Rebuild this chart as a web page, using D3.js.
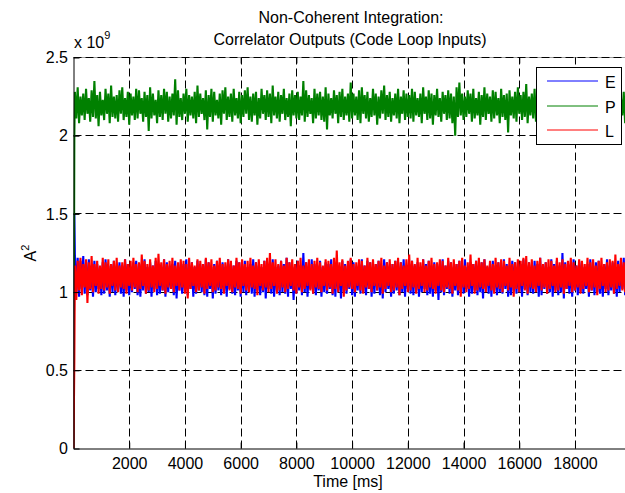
<!DOCTYPE html>
<html>
<head>
<meta charset="utf-8">
<script src="https://cdn.jsdelivr.net/npm/d3@7"></script>
<style>
  body { margin: 0; background: #fff; }
  svg { font-family: "Liberation Sans", Arial, sans-serif; }
</style>
</head>
<body>
<div class="box"></div>
<script>
// DATA  (A^2 in units of 1e9, time in ms)
// the trace is too dense to read point by point, so each 100 ms bin
// keeps the highest and the lowest value the trace reaches in it
const binMs = 100;

const pHi = [
  2.28,2.31,2.25,2.27,2.30,2.24,2.29,2.35,2.26,2.28,2.23,2.30,2.27,2.32,2.25,2.26,2.29,2.31,2.24,2.28,
  2.27,2.25,2.30,2.29,2.24,2.28,2.26,2.31,2.27,2.23,2.29,2.26,2.30,2.28,2.25,2.27,2.36,2.29,2.24,2.27,
  2.30,2.26,2.25,2.28,2.32,2.27,2.24,2.29,2.26,2.30,2.28,2.23,2.27,2.29,2.31,2.25,2.27,2.30,2.24,2.28,
  2.26,2.29,2.31,2.25,2.27,2.28,2.24,2.30,2.26,2.29,2.27,2.32,2.25,2.28,2.26,2.30,2.24,2.27,2.29,2.26,
  2.28,2.25,2.35,2.29,2.26,2.24,2.30,2.27,2.28,2.25,2.31,2.27,2.24,2.29,2.26,2.28,2.30,2.25,2.27,2.34,
  2.27,2.25,2.29,2.31,2.26,2.28,2.24,2.30,2.27,2.25,2.29,2.32,2.26,2.28,2.24,2.27,2.30,2.25,2.29,2.27,
  2.26,2.30,2.28,2.24,2.27,2.31,2.25,2.29,2.27,2.26,2.30,2.24,2.28,2.26,2.29,2.27,2.25,2.31,2.34,2.27,
  2.25,2.29,2.27,2.30,2.24,2.28,2.26,2.31,2.27,2.25,2.29,2.28,2.24,2.30,2.26,2.27,2.29,2.25,2.28,2.31,
  2.26,2.28,2.33,2.25,2.27,2.30,2.24,2.29,2.27,2.26,2.31,2.25,2.28,2.27,2.30,2.24,2.29,2.26,2.28,2.30,
  2.27,2.25,2.29,2.31,2.26,2.28,2.24,2.30,2.27,2.29,2.25,2.28,2.31,2.26,2.27,2.29,2.24,2.28,2.30,2.26
];
const pLo = [
  2.11,2.08,2.13,2.10,2.14,2.09,2.12,2.11,2.06,2.13,2.10,2.14,2.08,2.12,2.11,2.09,2.14,2.10,2.12,2.07,
  2.13,2.10,2.11,2.14,2.09,2.12,2.03,2.11,2.13,2.08,2.12,2.10,2.14,2.09,2.11,2.13,2.07,2.12,2.10,2.14,
  2.09,2.13,2.11,2.08,2.12,2.14,2.10,2.04,2.12,2.09,2.13,2.11,2.07,2.14,2.10,2.12,2.09,2.13,2.11,2.08,
  2.12,2.14,2.10,2.09,2.13,2.07,2.11,2.14,2.10,2.12,2.08,2.13,2.11,2.09,2.14,2.10,2.12,2.06,2.13,2.11,
  2.10,2.13,2.09,2.12,2.14,2.08,2.11,2.13,2.10,2.09,2.04,2.13,2.11,2.14,2.08,2.12,2.10,2.13,2.09,2.11,
  2.13,2.10,2.08,2.14,2.11,2.09,2.12,2.13,2.07,2.11,2.14,2.10,2.12,2.09,2.13,2.11,2.08,2.14,2.10,2.12,
  2.11,2.09,2.13,2.12,2.08,2.14,2.10,2.11,2.07,2.13,2.12,2.09,2.14,2.10,2.11,2.08,2.00,2.12,2.13,2.10,
  2.12,2.14,2.09,2.11,2.13,2.07,2.12,2.10,2.14,2.09,2.11,2.13,2.08,2.12,2.10,2.02,2.13,2.11,2.09,2.14,
  2.10,2.12,2.08,2.13,2.11,2.09,2.14,2.10,2.12,2.07,2.13,2.11,2.09,2.14,2.10,2.12,2.08,2.13,2.11,2.10,
  2.13,2.09,2.12,2.11,2.07,2.14,2.10,2.12,2.09,2.13,2.05,2.11,2.14,2.10,2.12,2.09,2.13,2.08,2.11,2.12
];

const eHi = [
  1.24,1.22,1.20,1.23,1.19,1.21,1.17,1.20,1.18,1.16,1.19,1.21,1.17,1.18,1.20,1.16,1.19,1.17,1.21,1.18,
  1.16,1.19,1.20,1.17,1.18,1.21,1.16,1.19,1.17,1.20,1.18,1.16,1.21,1.19,1.17,1.18,1.20,1.16,1.19,1.18,
  1.21,1.17,1.19,1.16,1.20,1.18,1.17,1.21,1.19,1.16,1.18,1.20,1.17,1.19,1.16,1.21,1.18,1.17,1.20,1.19,
  1.17,1.20,1.16,1.18,1.21,1.19,1.17,1.16,1.20,1.18,1.19,1.21,1.16,1.17,1.20,1.18,1.22,1.19,1.16,1.18,
  1.20,1.17,1.25,1.19,1.16,1.21,1.18,1.17,1.20,1.16,1.19,1.18,1.21,1.17,1.19,1.16,1.20,1.18,1.17,1.21,
  1.19,1.16,1.18,1.21,1.17,1.20,1.19,1.16,1.18,1.20,1.17,1.21,1.19,1.16,1.18,1.20,1.17,1.19,1.21,1.16,
  1.18,1.20,1.17,1.19,1.16,1.21,1.18,1.20,1.17,1.19,1.16,1.18,1.21,1.17,1.20,1.19,1.16,1.18,1.20,1.17,
  1.21,1.16,1.19,1.18,1.20,1.17,1.19,1.21,1.16,1.18,1.20,1.17,1.19,1.16,1.21,1.18,1.17,1.20,1.19,1.16,
  1.18,1.21,1.17,1.19,1.16,1.20,1.18,1.22,1.17,1.19,1.16,1.21,1.18,1.20,1.17,1.25,1.19,1.16,1.18,1.21,
  1.17,1.20,1.19,1.16,1.18,1.21,1.17,1.19,1.20,1.16,1.18,1.21,1.17,1.19,1.16,1.20,1.18,1.22,1.17,1.19
];
const eLo = [
  1.00,0.97,1.02,0.99,0.98,1.01,0.97,1.00,1.02,0.98,0.99,1.01,0.97,1.00,0.98,1.02,0.99,0.97,1.01,0.98,
  1.00,1.02,0.98,0.97,1.01,0.99,1.00,0.97,1.02,0.98,0.99,1.01,0.97,1.00,1.02,0.98,0.96,1.01,0.99,1.00,
  0.98,1.02,0.97,0.99,1.01,1.00,0.98,0.97,1.02,0.96,0.99,1.01,0.98,1.00,0.97,1.02,0.99,0.98,1.01,0.97,
  1.00,0.98,1.02,0.99,0.97,1.01,0.98,1.00,0.96,1.02,0.99,0.97,1.01,0.98,1.00,0.99,0.97,1.02,0.95,0.99,
  1.01,0.98,1.00,0.97,1.02,0.99,0.98,1.01,0.97,1.00,0.99,1.02,0.98,0.97,1.01,0.96,1.00,0.99,1.02,0.98,
  0.97,1.01,0.99,1.00,0.98,1.02,0.97,0.99,1.01,0.98,0.96,1.00,1.02,0.97,0.99,1.01,0.98,1.00,0.97,1.02,
  0.99,0.98,1.01,0.97,1.00,1.02,0.98,0.99,0.97,1.01,0.95,1.00,0.98,1.02,0.99,0.97,1.01,0.98,1.00,0.99,
  1.02,0.97,0.99,1.01,0.98,1.00,0.96,1.02,0.99,0.97,1.01,0.98,1.00,0.99,1.02,0.97,0.98,1.01,0.99,1.00,
  0.97,1.02,0.98,1.00,0.99,1.01,0.97,0.98,1.02,0.99,1.00,0.97,1.01,0.98,1.00,0.96,1.02,0.99,0.97,1.01,
  0.98,1.00,0.99,1.02,0.97,1.01,0.98,1.00,0.99,0.97,1.02,0.98,1.01,0.99,0.97,1.00,1.02,0.98,0.99,1.01
];

const lHi = [
  1.17,1.20,1.22,1.18,1.21,1.19,1.23,1.18,1.20,1.17,1.22,1.19,1.21,1.18,1.20,1.22,1.17,1.19,1.21,1.18,
  1.20,1.22,1.18,1.19,1.24,1.20,1.18,1.21,1.17,1.22,1.245,1.19,1.21,1.18,1.20,1.22,1.17,1.19,1.21,1.20,
  1.18,1.22,1.19,1.17,1.21,1.20,1.18,1.22,1.19,1.21,1.17,1.20,1.22,1.18,1.19,1.21,1.20,1.17,1.22,1.19,
  1.21,1.18,1.20,1.22,1.17,1.19,1.21,1.18,1.20,1.22,1.25,1.19,1.21,1.18,1.20,1.17,1.22,1.19,1.21,1.18,
  1.20,1.22,1.17,1.19,1.21,1.18,1.20,1.22,1.19,1.17,1.21,1.20,1.18,1.22,1.265,1.19,1.21,1.17,1.20,1.22,
  1.18,1.19,1.21,1.20,1.17,1.22,1.19,1.21,1.18,1.20,1.22,1.17,1.19,1.21,1.18,1.20,1.22,1.19,1.17,1.21,
  1.24,1.20,1.18,1.22,1.19,1.21,1.17,1.20,1.22,1.18,1.19,1.21,1.20,1.17,1.22,1.19,1.21,1.18,1.20,1.22,
  1.17,1.19,1.24,1.18,1.20,1.22,1.19,1.21,1.17,1.20,1.18,1.22,1.19,1.21,1.20,1.17,1.22,1.18,1.19,1.21,
  1.20,1.22,1.23,1.19,1.21,1.17,1.20,1.22,1.18,1.19,1.21,1.20,1.17,1.22,1.19,1.21,1.18,1.20,1.22,1.19,
  1.17,1.21,1.20,1.18,1.22,1.19,1.21,1.17,1.20,1.22,1.18,1.19,1.21,1.20,1.24,1.18,1.22,1.19,1.21,1.20
];
const lLo = [
  0.95,1.01,0.98,1.03,0.93,1.02,1.00,1.04,0.99,1.02,1.01,1.03,0.99,1.04,1.01,1.00,1.03,1.02,0.99,1.04,
  1.01,1.03,1.00,1.02,1.04,0.99,1.01,1.03,1.00,1.02,1.04,1.01,0.99,1.03,1.02,1.00,1.04,1.01,1.03,0.99,
  0.96,1.02,1.04,1.00,1.01,1.03,0.99,1.02,1.04,1.00,1.01,1.03,1.02,0.99,1.04,1.01,1.00,1.03,1.02,0.99,
  1.04,1.01,1.00,1.03,1.02,0.98,1.04,1.01,1.03,1.00,1.02,1.04,0.99,1.01,1.03,1.00,1.02,1.04,1.01,0.99,
  1.03,1.00,1.02,1.04,1.01,0.99,1.03,1.02,1.00,1.04,1.01,1.03,0.99,1.02,1.00,1.04,0.97,1.01,1.03,1.02,
  1.00,1.04,1.01,0.99,1.03,1.02,1.00,1.04,1.01,1.03,0.99,1.02,1.04,1.00,1.01,1.03,0.98,1.02,1.04,1.00,
  1.01,1.03,0.99,1.02,1.04,1.00,1.01,1.03,1.02,0.99,1.04,1.01,1.00,1.03,1.02,0.99,1.04,1.01,0.97,1.03,
  1.00,1.02,1.04,0.99,1.01,1.03,1.02,1.00,1.04,1.01,0.99,1.03,1.02,1.00,1.04,1.01,1.03,0.97,1.02,1.00,
  1.04,1.01,0.99,1.03,1.02,1.00,1.04,1.01,1.03,0.99,1.02,1.04,1.00,1.01,1.03,0.99,1.02,1.04,1.00,1.01,
  1.03,0.99,1.02,1.04,1.00,1.01,1.03,0.98,1.02,1.04,1.00,1.01,1.03,0.99,1.02,1.04,1.01,1.00,1.03,1.02
];

// first samples, before the loop settles
const startT = [0, 30];
const eStart = [0, 1.50];
const pStart = [0, 2.00];
const lStart = [0, 0.57];

const seriesNames = ['E', 'P', 'L'];
const seriesColors = ['#0000ff', '#008000', '#ff0000'];
const xTicks = [2000, 4000, 6000, 8000, 10000, 12000, 14000, 16000, 18000];
const yTicks = [0, 0.5, 1, 1.5, 2, 2.5];

// SETUP
const width = 625, height = 493;
const svg = d3.select('.box')
              .append('svg')
              .attr('width', width)
              .attr('height', height)
              .style('background', '#fff');

// axes box (right edge falls just outside the picture)
const x = d3.scaleLinear().domain([0, 20000]).range([73.5, 630.7]);
const y = d3.scaleLinear().domain([0, 2.5]).range([448.5, 57.5]);

svg.append('clipPath').attr('id', 'plotclip')
   .append('rect')
   .attr('x', 73.5).attr('y', 57.5)
   .attr('width', 630.7 - 73.5).attr('height', 448.5 - 57.5);

// top box line sits under the 2.5 grid line
svg.append('line')
   .attr('x1', 73.5).attr('x2', 630.7)
   .attr('y1', 57.5).attr('y2', 57.5)
   .attr('stroke', '#999');

// grid
const grid = svg.append('g')
                .attr('stroke', '#000')
                .attr('stroke-dasharray', '8,4')
                .attr('fill', 'none');
grid.selectAll('.vg').data(xTicks).enter()
    .append('line')
    .attr('x1', d => Math.round(x(d)) + 0.5).attr('x2', d => Math.round(x(d)) + 0.5)
    .attr('y1', 448.5).attr('y2', 57.5);
grid.selectAll('.hg').data(yTicks.filter(d => d > 0)).enter()
    .append('line')
    .attr('y1', d => Math.round(y(d) - 0.5) + 0.5).attr('y2', d => Math.round(y(d) - 0.5) + 0.5)
    .attr('x1', 73.5).attr('x2', 630.7);

// TRACES
const trace = (start, hi, lo) => {
  const pts = startT.map((t, i) => [t, start[i]]);
  hi.forEach((h, i) => {
    pts.push([i * binMs + 50, h]);
    pts.push([i * binMs + 100, lo[i]]);
  });
  return pts;
};
const traces = [
  trace(eStart, eHi, eLo),
  trace(pStart, pHi, pLo),
  trace(lStart, lHi, lLo)
];

const line = d3.line().x(d => x(d[0])).y(d => y(d[1]));
const plot = svg.append('g').attr('clip-path', 'url(#plotclip)');
plot.selectAll('path')
    .data(traces)
    .enter()
    .append('path')
    .attr('d', line)
    .attr('fill', 'none')
    .attr('stroke', (d, i) => seriesColors[i])
    .attr('stroke-width', 2.1)
    .attr('stroke-linejoin', 'miter')
    .attr('stroke-miterlimit', 2);

// AXES (ticks point inward like matlab)
const axeX = d3.axisBottom(x).tickValues(xTicks).tickSizeInner(-6).tickSizeOuter(0).tickPadding(9)
               .tickFormat(d => d);
const axeXTop = d3.axisTop(x).tickValues(xTicks).tickSizeInner(-6).tickSizeOuter(0).tickFormat('');
const axeY = d3.axisLeft(y).tickValues(yTicks).tickSizeInner(-6).tickSizeOuter(0).tickPadding(5.5)
               .tickFormat(d => d);

svg.append('g').attr('transform', 'translate(0, 448.5)').call(axeX);
svg.append('g').attr('transform', 'translate(0, 57.5)').call(axeXTop).select('.domain').remove();
svg.append('g').attr('transform', 'translate(73.5, 0)').call(axeY);

svg.selectAll('.tick text')
   .style('font-size', '16px')
   .style('font-family', '"Liberation Sans", Arial, sans-serif')
   .attr('fill', '#000');
svg.selectAll('.tick line').attr('stroke', '#000');
svg.selectAll('.domain').attr('stroke', '#000');

// exponent label
const expo = svg.append('text')
                .attr('x', 74).attr('y', 48)
                .style('font-size', '16px');
expo.append('tspan').text('x 10');
expo.append('tspan').attr('dy', -9).style('font-size', '11px').text('9');

// TITLES
svg.append('text')
   .attr('x', 351).attr('y', 23)
   .style('text-anchor', 'middle').style('font-size', '16px')
   .text('Non-Coherent Integration:');
svg.append('text')
   .attr('x', 350).attr('y', 45)
   .style('text-anchor', 'middle').style('font-size', '16px')
   .text('Correlator Outputs (Code Loop Inputs)');
svg.append('text')
   .attr('x', 348).attr('y', 487)
   .style('text-anchor', 'middle').style('font-size', '16px')
   .text('Time [ms]');

const ylab = svg.append('text')
                .attr('transform', 'translate(36, 253) rotate(-90)')
                .style('text-anchor', 'middle').style('font-size', '16px');
ylab.append('tspan').text('A');
ylab.append('tspan').attr('dy', -7).style('font-size', '11px').text('2');

// LEGEND (lines sit between pixel rows so they come out soft, as in the original)
const legend = svg.append('g');
legend.append('rect')
      .attr('x', 536.5).attr('y', 67.5)
      .attr('width', 85).attr('height', 77)
      .attr('fill', '#fff').attr('stroke', '#000');
const items = legend.selectAll('.item')
                    .data(seriesNames)
                    .enter()
                    .append('g')
                    .attr('transform', (d, i) => `translate(0, ${Math.round(81 + i * 24.5)})`);
items.append('line')
     .attr('x1', 547).attr('x2', 598)
     .attr('stroke', (d, i) => seriesColors[i]);
items.append('text')
     .attr('x', 605).attr('y', 6.5)
     .style('font-size', '16px')
     .text(d => d);
</script>
</body>
</html>
